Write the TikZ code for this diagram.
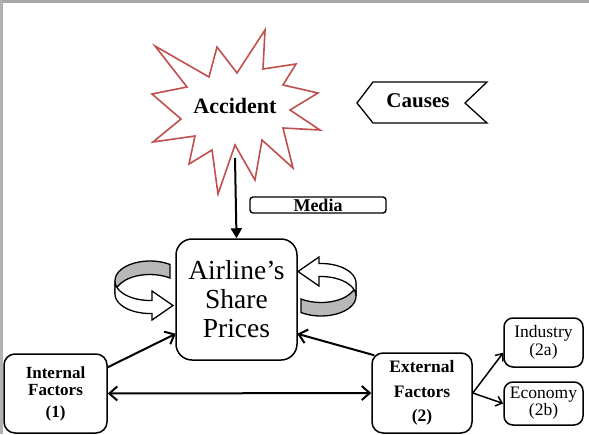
\documentclass[tikz,border=0pt]{standalone}
\usepackage{fontspec}
\setmainfont{Liberation Serif}
\usetikzlibrary{arrows.meta,calc}
\definecolor{burstred}{RGB}{192,80,77}
\tikzset{
  fbox/.style={draw=black, line width=1.5pt, rounded corners=11pt, fill=white, align=center, inner sep=0pt},
  conn/.style={line width=2pt, -{Straight Barb[length=8pt,width=14pt]}},
  ribbonback/.style={fill=black!28, draw=black, line width=1.3pt},
  ribbonfront/.style={fill=white, draw=black, line width=1.3pt},
  burststyle/.style={draw=burstred, line width=1.6pt, fill=white, line join=miter},
}
\newcommand{\myribbon}{%
  \path[ribbonback] (170,264.5) arc[start angle=304.8, end angle=180, x radius=35, y radius=19.5]
     -- (115,294) arc[start angle=180, end angle=304.8, x radius=35, y radius=19.5] -- cycle;
  \path[ribbonfront] (115,281) arc[start angle=180, end angle=86.7, x radius=35, y radius=19.5]
     -- (152,291) -- (173,305.5) -- (152,320) -- (152,313.5)
     arc[start angle=86.7, end angle=180, x radius=35, y radius=19.5] -- cycle;
}
\begin{document}
\begin{tikzpicture}[x=1pt,y=-1pt]
\useasboundingbox (0,0) rectangle (589,434);
\fill[white] (0,0) rectangle (589,434);
\fill[black!35] (0,0) rectangle (589,3);
\fill[black!30] (0,0) rectangle (3,434);

% starburst
\draw[burststyle] (155,46) -- (209,77) -- (217,47) -- (237,73) -- (265,30) -- (263,69) -- (296,64)
  -- (283,85) -- (318,93) -- (290,110) -- (320,130) -- (283,128) -- (293,168) -- (262,140)
  -- (255,180) -- (235,145) -- (218,194) -- (212,150) -- (189,164) -- (195,136) -- (153,142)
  -- (181,119) -- (152,94) -- (187,87) -- cycle;
\node[font=\fontsize{22}{24}\selectfont\bfseries] (acc) at (235,106) {Accident};
\coordinate (burst) at (235,158);

% causes
\draw[line width=1.3pt, fill=white] (357,103) -- (373,82) -- (487,82) -- (465,103) -- (487,123) -- (373,123) -- cycle;
\node[font=\fontsize{21}{23}\selectfont\bfseries] (causes) at (418,101) {Causes};

% ribbons
\myribbon
\begin{scope}[rotate around={180:(235.5,288.5)}]
\myribbon
\end{scope}

% central box
\node[fbox, rounded corners=16pt, minimum width=121pt, minimum height=121pt,
      font=\fontsize{27.5}{29}\selectfont] (share) at (236.5,299.5) {Airline's\\Share\\Prices};

% media
\node[draw=black, line width=1.4pt, rounded corners=3pt, minimum width=136pt, minimum height=16pt,
      inner sep=0pt, font=\fontsize{18}{16}\selectfont\bfseries] (media) at (318,205) {\raisebox{-1.5pt}{Media}};

% bottom boxes
\node[fbox, minimum width=103pt, minimum height=79pt, font=\fontsize{17}{17}\selectfont\bfseries]
  (int) at (55.5,393.5) {Internal\\Factors\\[5pt](1)};
\node[fbox, minimum width=100pt, minimum height=80pt, font=\fontsize{17.5}{24.5}\selectfont\bfseries]
  (ext) at (422,393) {External\\Factors\\(2)};
\node[fbox, rounded corners=9pt, minimum width=79pt, minimum height=49pt, font=\fontsize{17.5}{18}\selectfont]
  (ind) at (543.5,342.5) {Industry\\(2a)};
\node[fbox, rounded corners=9pt, minimum width=79pt, minimum height=43pt, font=\fontsize{17.5}{17}\selectfont]
  (eco) at (543.5,403.5) {Economy\\(2b)};

% connectors
\draw[line width=2pt, -{Triangle[length=10pt,width=11pt]}] (burst) -- (share.north);
\draw[conn] ($(int.north east)+(0,14)$) -- ($(share.south west)+(0.5,-27)$);
\draw[conn] ($(ext.north west)+(3,3)$) -- ($(share.south east)+(-0.5,-27)$);
\draw[conn, {Straight Barb[length=8pt,width=14pt]}-{Straight Barb[length=8pt,width=14pt]}] (int.east) -- (ext.west);
\draw[line width=1.5pt, -{Straight Barb[length=6pt,width=10pt]}] (ext.east) -- ($(ind.south west)+(0,-15)$);
\draw[line width=1.5pt, -{Straight Barb[length=6pt,width=10pt]}] (ext.east) -- (eco.west);
\end{tikzpicture}
\end{document}
